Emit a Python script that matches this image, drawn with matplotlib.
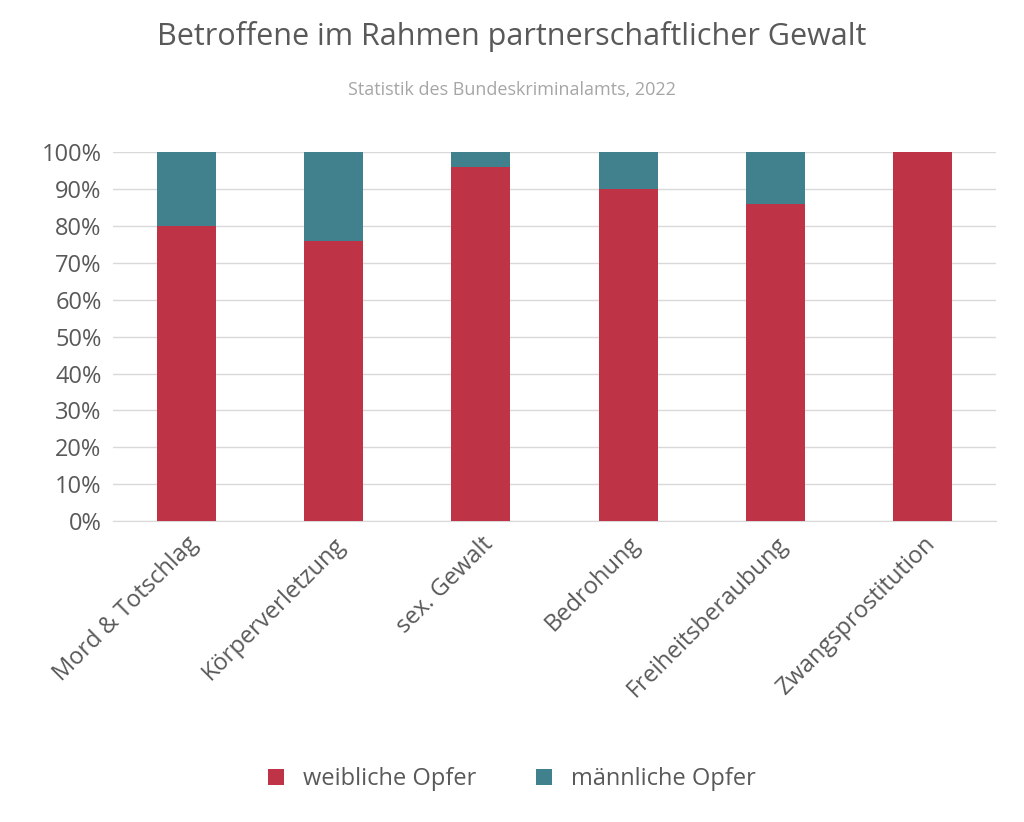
import matplotlib
matplotlib.use("Agg")
import matplotlib.pyplot as plt
from matplotlib.ticker import PercentFormatter

categories = ["Mord & Totschlag", "Körperverletzung", "sex. Gewalt", "Bedrohung", "Freiheitsberaubung", "Zwangsprostitution"]
weiblich = [80, 76, 96, 90, 86, 100]
maennlich = [20, 24, 4, 10, 14, 0]

plt.rcParams['font.family'] = ['Open Sans', 'DejaVu Sans']
fig = plt.figure(figsize=(10.24, 8.22), dpi=100)
ax = fig.add_axes([0.11, 0.366, 0.863, 0.449])
red, teal = "#BE3346", "#41808D"
x = range(len(categories))
ax.bar(x, weiblich, width=0.4, color=red, label="weibliche Opfer", zorder=3)
ax.bar(x, maennlich, width=0.4, bottom=weiblich, color=teal, label="männliche Opfer", zorder=3)
ax.set_xlim(-0.5, 5.5)
ax.set_ylim(0, 100)
ax.set_yticks(range(0, 101, 10))
ax.yaxis.set_major_formatter(PercentFormatter(decimals=0))
ax.grid(axis='y', color='#D9D9D9', linewidth=1, zorder=0)
for s in ['top', 'right', 'left']:
    ax.spines[s].set_visible(False)
ax.spines['bottom'].set_color('#D9D9D9')
ax.tick_params(length=0, labelsize=17, colors='#595959', pad=8)
ax.set_xticks(list(x))
ax.set_xticklabels(categories, rotation=45, ha='right', rotation_mode='anchor')
fig.text(0.5, 0.945, "Betroffene im Rahmen partnerschaftlicher Gewalt", ha='center', fontsize=22, color='#595959')
fig.text(0.5, 0.885, "Statistik des Bundeskriminalamts, 2022", ha='center', fontsize=13, color='#A6A6A6')
fig.legend(loc='center', bbox_to_anchor=(0.5, 0.052), ncol=2, frameon=False, fontsize=17,
           labelcolor='#595959', handlelength=0.7, handleheight=0.7, columnspacing=2.5)
fig.savefig("out.png", dpi=100, facecolor='white')
